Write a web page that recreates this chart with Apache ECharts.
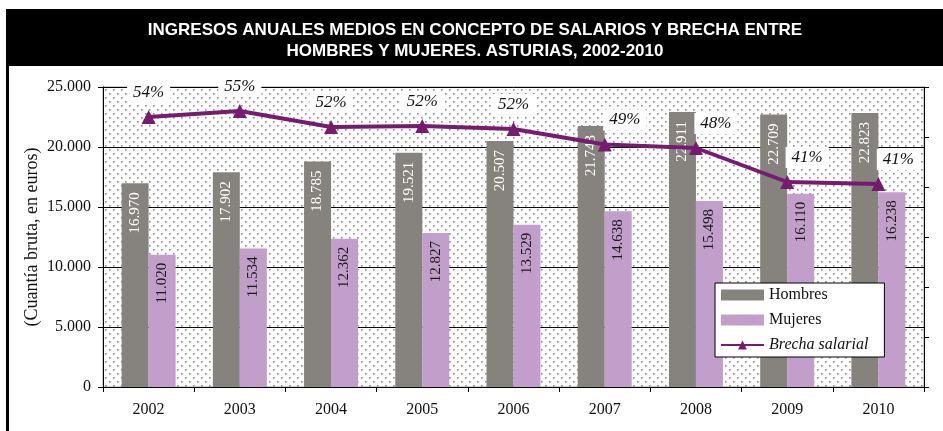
<!DOCTYPE html>
<html>
<head>
<meta charset="utf-8">
<script src="https://cdn.jsdelivr.net/npm/echarts@6/dist/echarts.min.js"></script>
<style>
  html, body { margin: 0; padding: 0; background: #fff; }
  #chart { width: 943px; height: 431px; }
</style>
</head>
<body>
<div id="chart"></div>
<script>
var years = ['2002', '2003', '2004', '2005', '2006', '2007', '2008', '2009', '2010'];
var hombres = [16970, 17902, 18785, 19521, 20507, 21743, 22911, 22709, 22823];
var mujeres = [11020, 11534, 12362, 12827, 13529, 14638, 15498, 16110, 16238];
var brecha = [0.540, 0.552, 0.520, 0.522, 0.516, 0.485, 0.478, 0.410, 0.406];

var serif = '"Liberation Serif", "Times New Roman", serif';

function miles(v) {
    return String(v).replace(/\B(?=(\d{3})+(?!\d))/g, '.');
}

// dotted background of the plot area
var tile = document.createElement('canvas');
tile.width = 8;
tile.height = 8;
var ctx = tile.getContext('2d');
ctx.fillStyle = '#fff';
ctx.fillRect(0, 0, 8, 8);
ctx.fillStyle = '#8a8a8a';
ctx.fillRect(1, 1, 1.6, 1.6);
ctx.fillRect(5, 5, 1.6, 1.6);

var myChart = echarts.init(document.getElementById('chart'));
var option = {
    animation: false,
    title: {
        text: 'INGRESOS ANUALES MEDIOS EN CONCEPTO DE SALARIOS Y BRECHA ENTRE\nHOMBRES Y MUJERES. ASTURIAS, 2002-2010',
        left: 470,
        top: 15,
        textAlign: 'center',
        z: 10,
        textStyle: {
            color: '#fff',
            fontFamily: '"Liberation Sans", Arial, sans-serif',
            fontWeight: 'bold',
            fontSize: 17,
            lineHeight: 21
        }
    },
    graphic: [
        { type: 'rect', z: 0, shape: { x: 6, y: 9, width: 937, height: 57 }, style: { fill: '#000' } },
        { type: 'rect', z: 0, shape: { x: 6, y: 60, width: 3, height: 371 }, style: { fill: '#000' } }
    ],
    legend: {
        orient: 'vertical',
        left: 715,
        top: 283,
        backgroundColor: '#fff',
        borderColor: '#000',
        borderWidth: 1,
        padding: [4, 16, 4, 5],
        itemWidth: 43,
        itemHeight: 11,
        itemGap: 9,
        textStyle: { fontFamily: serif, fontSize: 16, color: '#111' },
        data: [
            { name: 'Hombres', icon: 'rect' },
            { name: 'Mujeres', icon: 'rect' },
            { name: 'Brecha salarial', textStyle: { fontStyle: 'italic' } }
        ]
    },
    grid: {
        left: 103,
        right: 19,
        top: 87,
        bottom: 44,
        show: true,
        borderColor: '#999',
        borderWidth: 1,
        backgroundColor: { image: tile, repeat: 'repeat' }
    },
    xAxis: {
        type: 'category',
        data: years,
        axisLine: { lineStyle: { color: '#000', width: 1 } },
        axisTick: { show: true, length: 5, lineStyle: { color: '#000' } },
        axisLabel: { color: '#111', fontFamily: serif, fontSize: 16, margin: 15 }
    },
    yAxis: [
        {
            type: 'value',
            min: 0,
            max: 25000,
            interval: 5000,
            name: '(Cuantía bruta, en euros)',
            nameLocation: 'middle',
            nameGap: 62,
            nameMoveOverlap: false,
            nameTextStyle: { fontFamily: serif, fontSize: 18, color: '#111' },
            axisLine: { show: true, lineStyle: { color: '#000' } },
            axisTick: { show: true, length: 5, lineStyle: { color: '#000' } },
            axisLabel: { color: '#111', fontFamily: serif, fontSize: 16, margin: 12, formatter: miles },
            splitLine: { show: true, lineStyle: { color: '#000', width: 1 } }
        },
        {
            type: 'value',
            min: 0,
            max: 0.6,
            interval: 0.1,
            position: 'right',
            axisLine: { show: true, lineStyle: { color: '#000' } },
            axisTick: { show: true, length: 5, lineStyle: { color: '#000' } },
            axisLabel: { show: false },
            splitLine: { show: false }
        }
    ],
    series: [
        {
            name: 'Hombres',
            type: 'bar',
            data: hombres,
            barWidth: 27,
            barGap: '0%',
            itemStyle: { color: '#86837e' },
            label: {
                show: true,
                position: 'insideTop',
                rotate: 90,
                align: 'right',
                verticalAlign: 'middle',
                distance: 9,
                color: '#fff',
                fontFamily: serif,
                fontSize: 15,
                formatter: function (p) { return miles(p.value); }
            }
        },
        {
            name: 'Mujeres',
            type: 'bar',
            data: mujeres,
            barWidth: 27,
            barGap: '0%',
            itemStyle: { color: '#c29fca' },
            label: {
                show: true,
                position: 'insideTop',
                rotate: 90,
                align: 'right',
                verticalAlign: 'middle',
                distance: 8,
                color: '#1a1a1a',
                fontFamily: serif,
                fontSize: 15,
                formatter: function (p) { return miles(p.value); }
            }
        },
        {
            name: 'Brecha salarial',
            type: 'line',
            yAxisIndex: 1,
            z: 5,
            data: brecha.map(function (v, i) {
                return { value: v, label: { offset: i >= 5 ? [20, 0] : [0, 0] } };
            }),
            symbol: 'triangle',
            symbolSize: 14,
            itemStyle: { color: '#761b6f' },
            lineStyle: { color: '#761b6f', width: 4 },
            label: {
                show: true,
                position: 'top',
                distance: 7,
                backgroundColor: '#fff',
                padding: [2, 6],
                color: '#111',
                fontFamily: serif,
                fontStyle: 'italic',
                fontSize: 17,
                formatter: function (p) { return Math.round(p.value * 100) + '%'; }
            }
        }
    ]
};
myChart.setOption(option);
</script>
</body>
</html>
